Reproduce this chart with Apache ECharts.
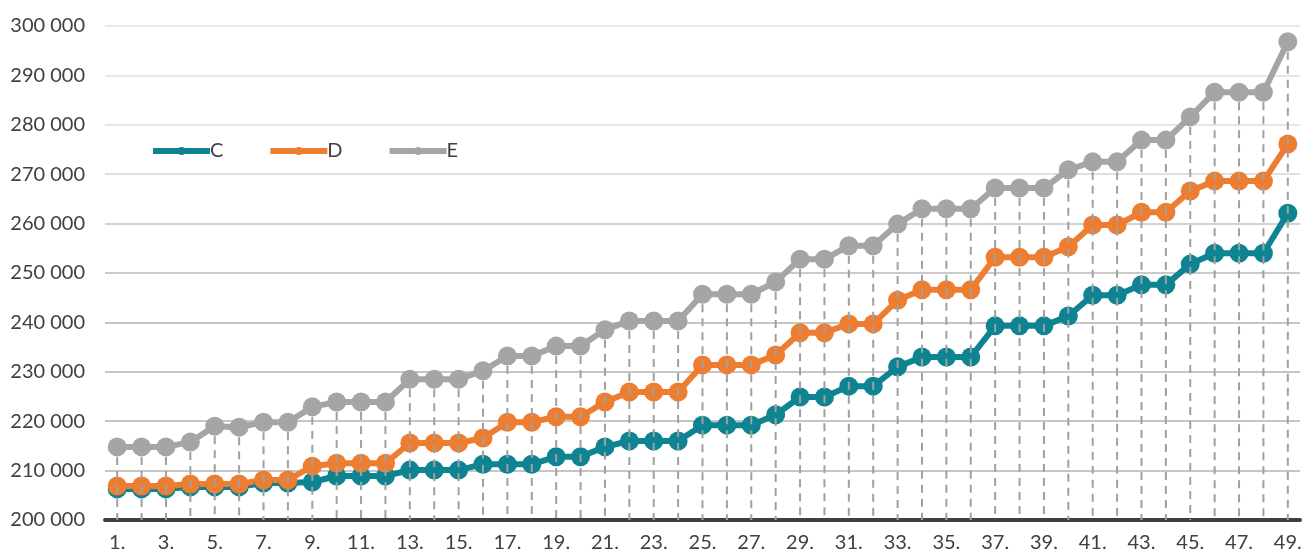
<!DOCTYPE html>
<html>
<head>
<meta charset="utf-8">
<script src="https://cdn.jsdelivr.net/npm/echarts@6/dist/echarts.min.js"></script>
<style>
  html, body { margin: 0; padding: 0; background: #fff; }
  #chart { width: 1314px; height: 559px; }
</style>
</head>
<body>
<div id="chart"></div>
<script>
const categories = [];
for (let i = 1; i <= 49; i++) categories.push(i + '.');

const seriesC = [
  206300, 206300, 206300, 206700, 206700, 206700, 207500, 207500, 207700, 208900,
  208900, 208900, 210100, 210100, 210100, 211300, 211300, 211300, 212800, 212800,
  214800, 216000, 216000, 216000, 219200, 219200, 219200, 221300, 224900, 224900,
  227100, 227100, 231000, 233000, 233000, 233000, 239300, 239300, 239300, 241300,
  245500, 245500, 247600, 247600, 251800, 254000, 254000, 254000, 262100
];

const seriesD = [
  206900, 206900, 206900, 207300, 207300, 207300, 208100, 208100, 210900, 211500,
  211500, 211500, 215600, 215600, 215600, 216600, 219800, 219800, 220900, 220900,
  223900, 225900, 225900, 225900, 231400, 231400, 231400, 233400, 237900, 237900,
  239700, 239700, 244500, 246600, 246600, 246600, 253200, 253200, 253200, 255300,
  259700, 259700, 262300, 262300, 266600, 268600, 268600, 268600, 276100
];

const seriesE = [
  214800, 214800, 214800, 215800, 219000, 218800, 219800, 219800, 222900, 223900,
  223900, 223900, 228500, 228500, 228500, 230200, 233200, 233200, 235200, 235200,
  238500, 240300, 240300, 240300, 245700, 245700, 245700, 248200, 252800, 252800,
  255500, 255500, 259900, 263000, 263000, 263000, 267200, 267200, 267200, 270900,
  272500, 272500, 276900, 276900, 281600, 286600, 286600, 286600, 296800
];

const Y_MIN = 200000;
const Y_MAX = 300000;
const Y_STEP = 10000;

const FONT = 'Lato, "DejaVu Sans", sans-serif';
const TEXT_COLOR = '#404040';

function formatThousands(value) {
  return String(value).replace(/\B(?=(\d{3})+(?!\d))/g, ' ');
}

function lineSeries(name, data, color, z) {
  return {
    name: name,
    type: 'line',
    data: data,
    z: z,
    symbol: 'circle',
    symbolSize: 19,
    showSymbol: true,
    showAllSymbol: true,
    lineStyle: { color: color, width: 6 },
    itemStyle: { color: color },
    emphasis: { disabled: true },
    animation: false
  };
}

// vertical dashed drop lines from the top series down to the axis
function dropLineSeries(data) {
  return {
    type: 'custom',
    z: 3,
    silent: true,
    animation: false,
    data: data.map((v, i) => [i, v]),
    renderItem: (params, api) => {
      const top = api.coord([api.value(0), api.value(1)]);
      const bottom = api.coord([api.value(0), Y_MIN]);
      return {
        type: 'line',
        shape: { x1: top[0], y1: top[1] + 10, x2: bottom[0], y2: bottom[1] },
        style: { stroke: '#a0a0a0', lineWidth: 2, lineDash: [8, 6] }
      };
    }
  };
}

const chart = echarts.init(document.getElementById('chart'));

const option = {
  backgroundColor: '#fff',
  animation: false,
  grid: { left: 105, right: 14, top: 26, bottom: 39 },
  legend: {
    data: ['C', 'D', 'E'],
    left: 145,
    top: 136,
    itemWidth: 57,
    itemHeight: 10,
    itemGap: 44,
    lineStyle: { width: 6 },
    textStyle: { color: TEXT_COLOR, fontFamily: FONT, fontSize: 20, padding: [0, 0, 0, -5] }
  },
  xAxis: {
    type: 'category',
    data: categories,
    boundaryGap: true,
    axisLine: { show: true, lineStyle: { color: '#404040', width: 4 } },
    axisTick: { show: false },
    axisLabel: {
      interval: 1,
      color: TEXT_COLOR,
      fontFamily: FONT,
      fontSize: 20,
      margin: 13
    }
  },
  yAxis: {
    type: 'value',
    min: Y_MIN,
    max: Y_MAX,
    interval: Y_STEP,
    axisLine: { show: false },
    axisTick: { show: false },
    axisLabel: {
      color: TEXT_COLOR,
      fontFamily: FONT,
      fontSize: 20,
      margin: 20,
      formatter: formatThousands
    },
    splitLine: {
      lineStyle: {
        width: 1.5,
        color: ['#b3b3b3', '#b3b3b3', '#b3b3b3', '#b3b3b3', '#b3b3b3', '#b8b8b8',
                '#c4c4c4', '#d4d4d4', '#dedede', '#e0e0e0', '#e0e0e0']
      }
    }
  },
  series: [
    lineSeries('C', seriesC, '#0e8391', 2),
    lineSeries('D', seriesD, '#ed7d31', 2),
    dropLineSeries(seriesE),
    lineSeries('E', seriesE, '#a5a5a5', 4)
  ]
};

chart.setOption(option);
</script>
</body>
</html>
